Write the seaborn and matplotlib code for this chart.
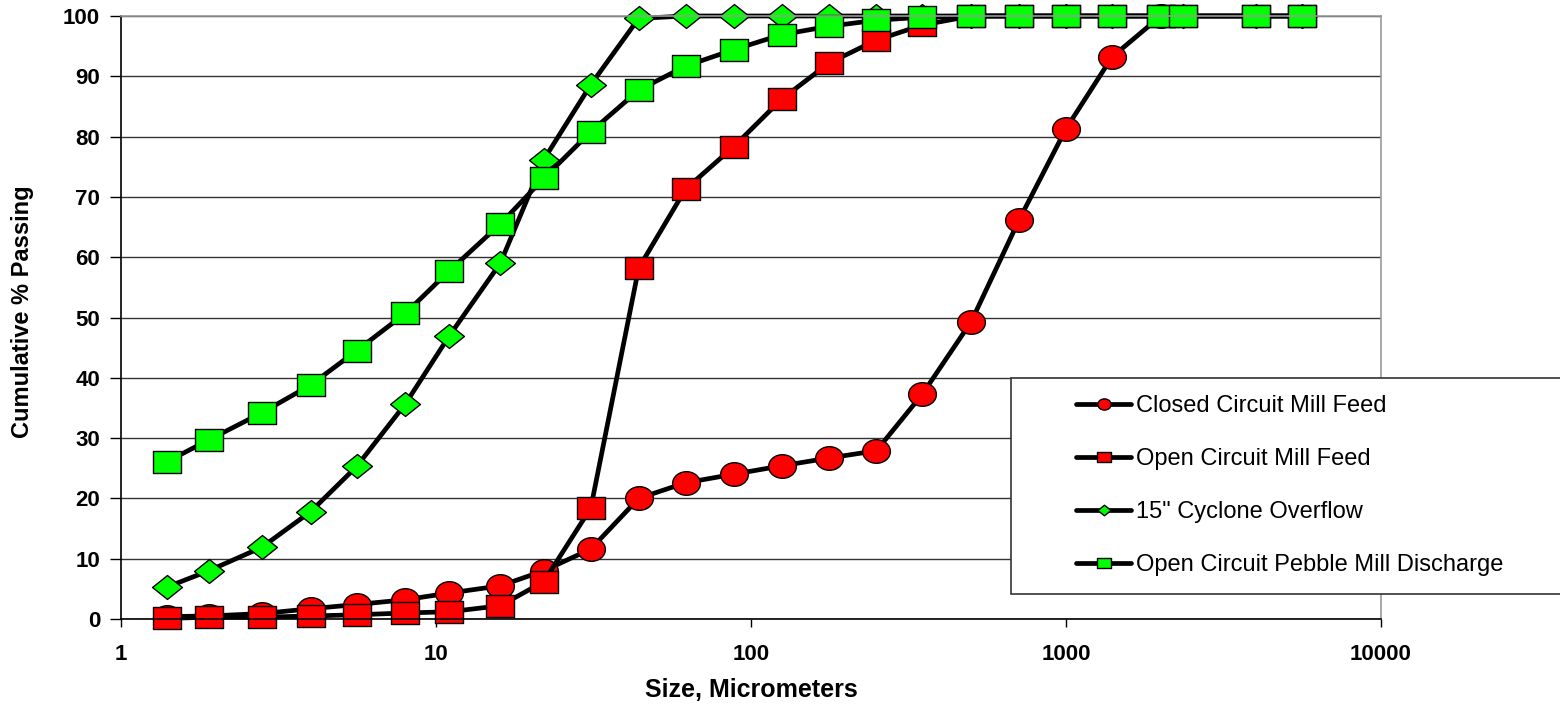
import matplotlib
matplotlib.use("Agg")
import matplotlib.pyplot as plt
import matplotlib.path as mpath
from matplotlib.lines import Line2D
from matplotlib.patches import Rectangle
from matplotlib.ticker import NullLocator
import pandas as pd
import seaborn as sns

# Datos (tamaño en micrometros, % acumulado pasante)
sizes = [1.4, 1.9, 2.8, 4, 5.6, 8, 11, 16, 22, 31, 44, 62, 88, 125, 177,
         250, 350, 500, 710, 1000, 1400, 2000, 2360, 4000, 5600]

closed_feed = [0.4, 0.5, 0.9, 1.7, 2.4, 3.2, 4.3, 5.5, 8.0, 11.6, 20.0, 22.6,
               24.0, 25.4, 26.7, 27.9, 37.3, 49.3, 66.2, 81.3, 93.2, 100]
open_feed = [0.1, 0.3, 0.3, 0.5, 0.7, 1.0, 1.2, 2.2, 6.2, 18.4, 58.2, 71.3,
             78.3, 86.2, 92.2, 96.0, 98.5, 100, 100, 100, 100, 100, 100, 100, 100]
cyclone = [5.3, 8.0, 11.9, 17.8, 25.3, 35.7, 46.9, 59.0, 76.2, 88.6, 99.6, 100,
           100, 100, 100, 100, 100, 100, 100, 100, 100, 100, 100, 100, 100]
pebble = [26.1, 29.7, 34.2, 38.8, 44.5, 50.7, 57.7, 65.5, 73.1, 80.8, 87.7, 91.7,
          94.4, 96.9, 98.3, 99.3, 99.8, 100, 100, 100, 100, 100, 100, 100, 100]

labels = ["Closed Circuit Mill Feed", "Open Circuit Mill Feed",
          '15" Cyclone Overflow', "Open Circuit Pebble Mill Discharge"]

sns.set_style("white")
plt.rcParams['font.family'] = ['Liberation Sans', 'DejaVu Sans']
plt.rcParams['text.color'] = 'black'
plt.rcParams['axes.labelcolor'] = 'black'
plt.rcParams['xtick.color'] = 'black'
plt.rcParams['ytick.color'] = 'black'

# marcadores algo aplastados, como en el original
circ = mpath.Path.unit_circle()
m_circle = mpath.Path(circ.vertices * [1, 0.85], circ.codes)
m_square = mpath.Path([(-1, -0.78), (1, -0.78), (1, 0.78), (-1, 0.78), (-1, -0.78)],
                      closed=True)
m_diamond = mpath.Path([(0, -0.8), (1, 0), (0, 0.8), (-1, 0), (0, -0.8)], closed=True)

series = [
    (closed_feed, m_circle, "#ff0000", 20),
    (open_feed, m_square, "#ff0000", 20),
    (cyclone, m_diamond, "#00ff00", 21.5),
    (pebble, m_square, "#00ff00", 20),
]

fig = plt.figure(figsize=(15.6, 7.04), dpi=100)
ax = fig.add_axes([121 / 1560, 1 - 619 / 704, (1381 - 121) / 1560, (619 - 16) / 704])

for (vals, mk, col, ms), lab in zip(series, labels):
    df = pd.DataFrame({"size": sizes[:len(vals)], "passing": vals})
    sns.lineplot(data=df, x="size", y="passing", ax=ax, color="black", lw=3.4,
                 marker=mk, markersize=ms, markerfacecolor=col,
                 markeredgecolor="black", markeredgewidth=1, clip_on=False,
                 legend=False)

ax.set_xscale("log")
ax.set_xlim(1, 10000)
ax.set_ylim(0, 100)
ax.set_xticks([1, 10, 100, 1000, 10000])
ax.set_xticklabels(["1", "10", "100", "1000", "10000"])
ax.xaxis.set_minor_locator(NullLocator())
ax.set_yticks(range(0, 101, 10))
ax.yaxis.grid(True, color="#333333", lw=1)
ax.set_axisbelow(True)

for lbl in ax.get_xticklabels() + ax.get_yticklabels():
    lbl.set_fontweight("bold")
ax.tick_params(axis="x", direction="out", length=6, width=1, pad=12, labelsize=16,
               bottom=True)
ax.tick_params(axis="y", direction="out", length=8, width=1, pad=7, labelsize=16,
               left=True)

ax.spines["left"].set_color("black")
ax.spines["bottom"].set_color("black")
ax.spines["top"].set_color("#999999")
ax.spines["right"].set_color("#999999")
for s in ax.spines.values():
    s.set_linewidth(1.2)

ax.set_xlabel("Size, Micrometers", fontsize=18, fontweight="bold")
ax.xaxis.set_label_coords(0.5, -0.098)
ax.set_ylabel("Cumulative % Passing", fontsize=17, fontweight="bold")
ax.yaxis.set_label_coords(-0.069, 0.509)

# caja de la leyenda (se sale por la derecha como en el original)
rect = Rectangle((1011 / 1560, 1 - 594 / 704), 0.5, (594 - 378) / 704,
                 transform=fig.transFigure, facecolor="white", edgecolor="#333333",
                 lw=1.2, zorder=5)
fig.add_artist(rect)

handles = []
for (vals, mk, col, ms), lab in zip(series, labels):
    handles.append(Line2D([], [], color="black", lw=3.4, marker=mk, markersize=9.5,
                          markerfacecolor=col, markeredgecolor="black",
                          markeredgewidth=1, label=lab))
leg = fig.legend(handles=handles, loc="upper left",
                 bbox_to_anchor=(1076 / 1560, 1 - 395 / 704), frameon=False,
                 fontsize=17, handlelength=2.35, handletextpad=0.17,
                 labelspacing=1.32, borderpad=0, borderaxespad=0)
leg.set_zorder(6)

fig.savefig("out.png", dpi=100)
